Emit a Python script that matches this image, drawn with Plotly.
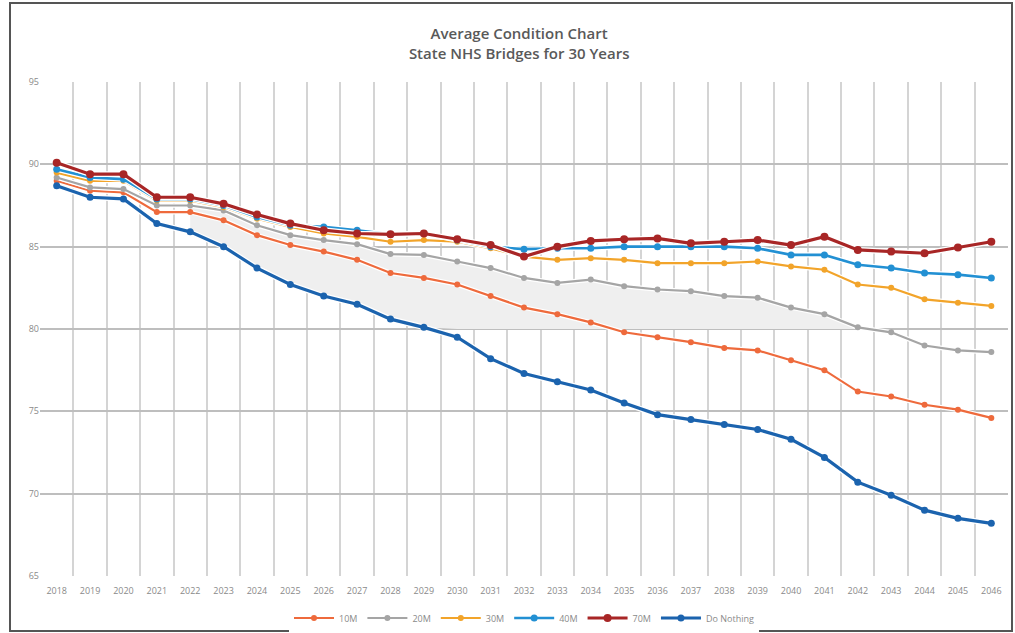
import plotly.graph_objects as go

years = [str(y) for y in range(2018, 2047)]

s10m = [89.0, 88.4, 88.3, 87.1, 87.1, 86.6, 85.7, 85.1, 84.7, 84.2, 83.4, 83.1, 82.7, 82.0, 81.3,
        80.9, 80.4, 79.8, 79.5, 79.2, 78.85, 78.7, 78.1, 77.5, 76.2, 75.9, 75.4, 75.1, 74.6]
s20m = [89.2, 88.6, 88.5, 87.5, 87.5, 87.2, 86.3, 85.7, 85.4, 85.15, 84.55, 84.5, 84.1, 83.7, 83.1,
        82.8, 83.0, 82.6, 82.4, 82.3, 82.0, 81.9, 81.3, 80.9, 80.1, 79.8, 79.0, 78.7, 78.6]
s30m = [89.5, 89.0, 89.0, 87.8, 87.8, 87.4, 86.7, 86.2, 85.8, 85.6, 85.3, 85.4, 85.3, 84.9, 84.4,
        84.2, 84.3, 84.2, 84.0, 84.0, 84.0, 84.1, 83.8, 83.6, 82.7, 82.5, 81.8, 81.6, 81.4]
s40m = [89.7, 89.2, 89.1, 87.9, 87.9, 87.5, 86.8, 86.3, 86.2, 86.0, 85.75, 85.8, 85.4, 85.0, 84.85,
        84.9, 84.9, 85.0, 85.0, 85.0, 85.0, 84.9, 84.5, 84.5, 83.9, 83.7, 83.4, 83.3, 83.1]
s70m = [90.1, 89.4, 89.4, 88.0, 88.0, 87.6, 86.95, 86.4, 86.0, 85.8, 85.75, 85.8, 85.45, 85.1, 84.4,
        85.0, 85.35, 85.45, 85.5, 85.2, 85.3, 85.4, 85.1, 85.6, 84.8, 84.7, 84.6, 84.95, 85.3]
do_nothing = [88.7, 88.0, 87.9, 86.4, 85.9, 85.0, 83.7, 82.7, 82.0, 81.5, 80.6, 80.1, 79.5, 78.2, 77.3,
              76.8, 76.3, 75.5, 74.8, 74.5, 74.2, 73.9, 73.3, 72.2, 70.7, 69.9, 69.0, 68.5, 68.2]

series = [
    ("10M", s10m, "#EE6A3C", 2.2, 6),
    ("20M", s20m, "#A5A5A5", 2.2, 6),
    ("30M", s30m, "#F2A42A", 2.2, 6),
    ("40M", s40m, "#2290D3", 2.6, 7),
    ("70M", s70m, "#A82626", 3.2, 8),
    ("Do Nothing", do_nothing, "#1B63AE", 3.2, 7),
]

fig = go.Figure()

# light shaded band between 20M and max(Do Nothing, 80)
i0, i1 = 4, 25
top = s20m[i0:i1]
bot = [max(v, 80.0) for v in do_nothing[i0:i1]]
fig.add_trace(go.Scatter(
    x=years[i0:i1] + years[i0:i1][::-1],
    y=top + bot[::-1],
    fill="toself", fillcolor="#EFEFEF", line=dict(width=0),
    mode="lines", showlegend=False, hoverinfo="skip"))

# white halo under lines
for name, vals, col, lw, ms in series:
    fig.add_trace(go.Scatter(x=years, y=vals, mode="lines", line=dict(color="white", width=lw + 2.5),
                             showlegend=False, hoverinfo="skip"))
    fig.add_trace(go.Scatter(x=years, y=vals, mode="lines+markers", name=name,
                             line=dict(color=col, width=lw),
                             marker=dict(color=col, size=ms, symbol="circle")))

W, H = 1015, 633
L, R, T, B = 40, 7, 82, 57
pw, ph = W - L - R, H - T - B

def px(x):
    return (x - L) / pw

def py(y):
    return (H - B - y) / ph

fig.add_shape(type="rect", xref="paper", yref="paper",
              x0=px(10), x1=px(1012), y0=py(631), y1=py(3),
              line=dict(color="#555555", width=2), fillcolor="rgba(0,0,0,0)", layer="below")

fig.update_layout(
    width=W, height=H,
    margin=dict(l=L, r=R, t=T, b=B, autoexpand=False),
    paper_bgcolor="white", plot_bgcolor="white",
    font=dict(family="Open Sans", color="#7F7F7F", size=9),
    title=dict(text="Average Condition Chart<br>State NHS Bridges for 30 Years",
               x=0.495, xref="paper", xanchor="center", y=0.938, yref="container", yanchor="middle",
               font=dict(family="Open Sans", size=15, color="#595959", weight=600)),
    xaxis=dict(type="category", categoryorder="array", categoryarray=years,
               range=[-0.5, 28.5], tickson="boundaries", ticklabelstandoff=8,
               showgrid=True, gridcolor="#D4D4D4", gridwidth=1.5, ticks="", showline=False,
               zeroline=False, tickfont=dict(size=9, color="#8A8A8A")),
    yaxis=dict(range=[65, 95], dtick=5, showgrid=True, gridcolor="#BEBEBE", gridwidth=2,
               zeroline=False, showline=False, ticks="", tickfont=dict(size=9, color="#8A8A8A")),
    legend=dict(orientation="h", x=0.5, xanchor="center", y=-0.085, yanchor="middle",
                font=dict(size=9, color="#8A8A8A"), itemwidth=40, tracegroupgap=0),
    showlegend=True,
)

fig.write_html("out.html", config={"displayModeBar": False},
               post_script="document.body.style.margin='0';document.body.style.overflow='hidden';")
